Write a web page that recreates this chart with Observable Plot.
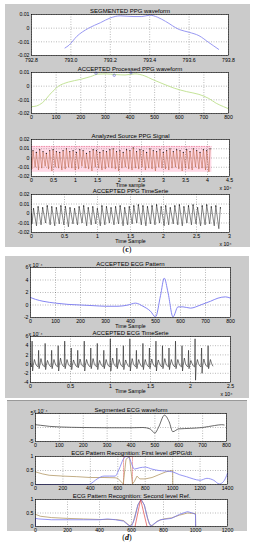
<!DOCTYPE html>
<html><head><meta charset="utf-8">
<script src="https://cdn.jsdelivr.net/npm/d3@7"></script>
<script src="https://cdn.jsdelivr.net/npm/@observablehq/plot@0.6"></script>
<style>
body{margin:0;background:#fff;}
#root{position:relative;width:255px;height:550px;overflow:hidden;font-family:"Liberation Sans",Arial,sans-serif;}
.win{position:absolute;background:#cbcbcb;}
.cap{position:absolute;font-family:"Liberation Serif",serif;font-size:8px;transform:translate(-50%,-50%);}
svg{position:absolute;}
</style></head>
<body><div id="root">
<div class="win" style="left:5px;top:4px;width:245px;height:243px"></div>
<div class="win" style="left:5px;top:256px;width:244px;height:142px"></div>
<div class="win" style="left:7px;top:400px;width:240px;height:130px;border-top:1px solid #999;"></div>
<div class="cap" style="left:127px;top:249px">(<b>c</b>)</div>
<div class="cap" style="left:127px;top:537px">(<b><i>d</i></b>)</div>
</div>
<script>
// ---------- data ----------
// Panel 1: SEGMENTED PPG waveform
const p1X = [792.97, 792.99, 793.03, 793.09, 793.15, 793.2, 793.25, 793.32, 793.36, 793.4, 793.44, 793.48, 793.55, 793.6, 793.65, 793.7, 793.75];
const p1Y = [-0.0145, -0.0125, -0.006, 0.0, 0.004, 0.0075, 0.009, 0.0085, 0.0085, 0.0095, 0.008, 0.005, -0.001, -0.003, -0.0055, -0.0105, -0.0155];
const p1XTicks = [792.8, 793, 793.2, 793.4, 793.6, 793.8];
const ppgYTicks = [-0.02, -0.01, 0, 0.01];
// Panel 2: ACCEPTED Processed PPG waveform
const p2X = [0, 20, 45, 80, 110, 150, 200, 240, 270, 300, 340, 380, 420, 460, 490, 530, 580, 630, 680, 720, 750, 780, 800];
const p2Y = [-0.015, -0.0145, -0.012, -0.005, 0.0, 0.003, 0.005, 0.007, 0.0088, 0.009, 0.0085, 0.0082, 0.009, 0.0075, 0.005, 0.002, -0.0015, -0.004, -0.006, -0.009, -0.0125, -0.015, -0.0165];
const p2MarkX = [262, 336, 404];
const p2MarkY = [0.0095, 0.008, 0.0098];
const p2XTicks = [0, 100, 200, 300, 400, 500, 600, 700, 800];
// Panel 3: Analyzed Source PPG Signal (x in 1e4 samples)
const p3Peaks = [0.008,0.006,0.009,0.007,0.005,0.008,0.009,0.007,0.006,0.008,0.010,0.007,0.008,0.006,0.009,0.008,0.005,0.007,0.009,0.008,0.006,0.008,0.007,0.009,0.010,0.007,0.008,0.006,0.009,0.008,0.011,0.007,0.009,0.008,0.006,0.010,0.008,0.007,0.009,0.006,0.008,0.010,0.007,0.009,0.008,0.006,0.009,0.007,0.010,0.008,0.006,0.009,0.008,0.010];
const p3Troughs = [-0.012,-0.010,-0.013,-0.011,-0.009,-0.012,-0.014,-0.010,-0.011,-0.013,-0.012,-0.010,-0.011,-0.013,-0.012,-0.009,-0.011,-0.012,-0.014,-0.010,-0.011,-0.013,-0.012,-0.010,-0.011,-0.012,-0.014,-0.011,-0.010,-0.012,-0.013,-0.011,-0.012,-0.010,-0.013,-0.011,-0.012,-0.014,-0.010,-0.011,-0.012,-0.013,-0.011,-0.010,-0.012,-0.014,-0.011,-0.012,-0.013,-0.010,-0.012,-0.011,-0.013,-0.015];
const p3End = 4.1;
const p3Band = [-0.0155, 0.0125];
const p3XTicks = [0, 0.5, 1, 1.5, 2, 2.5, 3, 3.5, 4, 4.5];
const ppg2YTicks = [-0.02, -0.01, 0, 0.01, 0.02];
// Panel 4: ACCEPTED PPG TimeSerie
const p4Peaks = [0.005,0.007,0.006,0.008,0.007,0.006,0.008,0.007,0.006,0.005,0.007,0.008,0.006,0.007,0.005,0.008,0.007,0.006,0.007,0.008,0.006,0.007,0.008,0.009,0.008,0.007,0.008,0.009,0.007,0.008,0.006,0.008,0.009,0.007,0.008,0.009,0.006,0.008,0.009,0.007,0.008,0.006];
const p4Troughs = [-0.011,-0.013,-0.012,-0.010,-0.012,-0.013,-0.011,-0.012,-0.014,-0.011,-0.012,-0.010,-0.013,-0.012,-0.011,-0.013,-0.012,-0.010,-0.012,-0.011,-0.013,-0.012,-0.011,-0.010,-0.012,-0.013,-0.011,-0.012,-0.010,-0.013,-0.012,-0.011,-0.012,-0.013,-0.010,-0.012,-0.011,-0.013,-0.012,-0.011,-0.013,-0.016];
const p4End = 2.9;
const p4XTicks = [0, 0.5, 1, 1.5, 2, 2.5, 3];
// Panel 5: ACCEPTED ECG Pattern (x 1e-4)
const p5X = [0, 20, 50, 100, 150, 200, 250, 300, 350, 390, 420, 450, 480, 500, 520, 535, 550, 570, 590, 610, 640, 680, 720, 750, 780, 800];
const p5Y = [1.2, 0.9, 0.6, 0.3, 0.1, 0, -0.1, -0.2, -0.2, 0, 0.3, -0.2, -1, -1.9, 1.5, 4.3, 2, -1.9, -0.3, -0.3, -0.5, 0, 0.6, 1.1, 1.3, 1.1];
const p5XTicks = [0, 100, 200, 300, 400, 500, 600, 700, 800];
const p5YTicks = [-2, 0, 2, 4, 6];
// Panel 6: ACCEPTED ECG TimeSerie (x 1e4, y 1e-4)
const p6R = [5,3,4.5,3,4,5,3.5,3,5,3.5,4.5,3,5.5,3.5,4,5.5,3,4.5,3.5,5,4,3.5,5,4,3,5.5,3.5,4];
const p6S = [-1.5,-1,-1.2,-1,-1.5,-1,-1.2,-0.8,-1.5,-1,-1.2,-1,-1.5,-1,-1.2,-1.5,-1,-1.2,-1,-1.5,-1,-1.2,-1,-1.5,-1,-3.5,-2,-1];
const p6T = [1,1.2,0.8,1,1.3,1,0.9,1.1,1,1.2,0.8,1,1.3,1,0.9,1.2,1,1,1.1,0.9,1.2,1,1,1.3,0.8,1,1.1,1];
const p6Start = 0.02, p6Last = 2.22;
const p6XTicks = [0, 0.5, 1, 1.5, 2, 2.5];
const p6YTicks = [-4, -2, 0, 2, 4, 6];
// Panel 7: Segmented ECG waveform
const p7X = [0, 20, 60, 100, 200, 300, 400, 450, 480, 500, 515, 540, 560, 575, 600, 650, 700, 750, 780, 790];
const p7Y = [1, 0.8, 0.4, 0.2, 0, -0.1, -0.1, 0, -0.5, -2, 0, 4.4, 2, -1.5, -0.5, -0.3, 0, 0.7, 1, 0.9];
const p7XTicks = [0, 100, 200, 300, 400, 500, 600, 700, 800];
const p7YTicks = [-5, 0, 5];
// Panel 8: ECG Pattern Recognition: First level dPPG/dt
const p8BlueX = [0, 390, 400, 450, 500, 540, 580, 610, 640, 660, 680, 700, 720, 760, 800, 850, 900, 950, 1000, 1050, 1100, 1150, 1200, 1250, 1300, 1340, 1370, 1400];
const p8BlueY = [0, 0, 0.02, 0.2, 0.3, 0.3, 0.3, 0.55, 0.9, 1.0, 0.98, 0.75, 0.55, 0.6, 0.62, 0.55, 0.5, 0.48, 0.45, 0.35, 0.28, 0.2, 0.15, 0.22, 0.15, 0.02, 0.1, 0.4];
const p8BrownX = [0, 50, 100, 200, 300, 400, 500, 580, 600, 640, 660, 685, 707, 720, 740, 760, 800, 850, 900, 950, 990, 1000, 1001];
const p8BrownY = [0.45, 0.38, 0.33, 0.3, 0.28, 0.25, 0.25, 0.24, 0.22, 0.02, 0.9, 1.0, 0.02, 0.1, 0.3, 0.2, 0.2, 0.25, 0.35, 0.45, 0.5, 0.5, 0];
const p8RedX = [642, 642, 707, 707];
const p8RedY = [0, 1, 1, 0];
const p8XTicks = [0, 200, 400, 600, 800, 1000, 1200, 1400];
const unitYTicks = [0, 0.5, 1];
// Panel 9: ECG Pattern Recognition: Second level Ref.
const p9BlueX = [0, 0, 20, 100, 200, 300, 400, 450, 500, 550, 580, 600, 620, 640, 660, 680, 700, 720, 740, 780, 850, 900, 950, 980, 1000, 1001];
const p9BlueY = [0, 0.3, 0.28, 0.25, 0.25, 0.25, 0.25, 0.28, 0.25, 0.2, 0.05, 0, 0.3, 0.8, 1.0, 0.8, 0.3, 0.0, 0.1, 0.25, 0.3, 0.45, 0.55, 0.5, 0.45, 0];
const p9BrownX = [0, 30, 100, 200, 300, 400, 500, 550, 590, 610, 640, 660, 680, 710, 730, 760, 800, 850, 900, 950, 1000, 1001];
const p9BrownY = [0.45, 0.38, 0.33, 0.3, 0.28, 0.26, 0.26, 0.22, 0.02, 0.15, 0.8, 1, 0.8, 0.1, 0.02, 0.2, 0.28, 0.32, 0.42, 0.5, 0.48, 0];
const p9RedX = [622, 657, 697];
const p9RedY = [0, 1, 0];
const p9XTicks = [0, 200, 400, 600, 800, 1000, 1200];

// ---------- helpers ----------
const root = document.getElementById("root");
const pts = (xs, ys) => xs.map((x, i) => ({x, y: ys[i]}));
function zigzag(troughs, peaks, end) {
  const n = troughs.length, p = end / n, out = [{x: 0, y: 0}];
  for (let i = 0; i < n; i++) {
    out.push({x: (i + 0.1) * p, y: troughs[i]});
    out.push({x: (i + 0.45) * p, y: peaks[i]});
  }
  return out;
}
function peakPts(peaks, end) {
  const p = end / peaks.length;
  return peaks.map((y, i) => ({x: (i + 0.45) * p, y}));
}
function ecg(R, S, T, start, last) {
  const n = R.length, p = (last - start) / (n - 1), out = [{x: 0, y: 0.2}];
  for (let i = 0; i < n; i++) {
    const x0 = start + i * p - 0.006;
    out.push({x: x0, y: -0.6}, {x: x0 + 0.006, y: R[i]}, {x: x0 + 0.012, y: S[i]},
             {x: x0 + 0.02, y: -0.3}, {x: x0 + 0.035, y: T[i]}, {x: x0 + 0.05, y: 0.1},
             {x: x0 + 0.065, y: -0.4});
  }
  return out;
}
const fmt = d => String(+d.toFixed(4));
const FS = 5.2;
function panel(o) {
  const ml = 26, mr = 24, mt = 12, mb = 18;
  const w = o.r - o.l, h = o.b - o.t;
  const gridOpt = {stroke: "#000", strokeOpacity: 0.55, strokeDasharray: "1,1.5", strokeWidth: 0.5};
  const marks = [
    Plot.frame({fill: "white"}),
    ...(o.under || []),
    Plot.gridX(o.xt, gridOpt),
    Plot.gridY(o.yt, gridOpt),
    ...o.marks,
    Plot.frame({stroke: "#000", strokeWidth: 0.6}),
    Plot.axisX(o.xt, {tickSize: 0, tickPadding: o.xpad ?? 1.5, fontSize: FS, tickFormat: o.xf || fmt, label: null}),
    Plot.axisY(o.yt, {tickSize: 0, tickPadding: 2, fontSize: FS, tickFormat: o.yf || fmt, label: null}),
    Plot.text([o.title], {text: d => d, frameAnchor: "top", dy: -1.2, lineAnchor: "bottom", fontSize: 6})
  ];
  if (o.xlabel) marks.push(Plot.text([o.xlabel], {text: d => d, frameAnchor: "bottom", dy: 7, lineAnchor: "top", fontSize: FS}));
  if (o.xexp) marks.push(Plot.text([o.xexp], {text: d => d, frameAnchor: "bottom-right", dx: 2, dy: 10, lineAnchor: "top", textAnchor: "end", fontSize: FS}));
  if (o.yexp) marks.push(Plot.text([o.yexp], {text: d => d, frameAnchor: "top-left", dx: -2, dy: -1, lineAnchor: "bottom", textAnchor: "start", fontSize: FS}));
  const svg = Plot.plot({
    width: w + ml + mr, height: h + mt + mb,
    marginLeft: ml, marginRight: mr, marginTop: mt, marginBottom: mb,
    x: {domain: o.xd}, y: {domain: o.yd},
    style: {background: "transparent", fontFamily: "Liberation Sans, Arial, sans-serif", color: "#000", overflow: "visible"},
    marks
  });
  svg.style.left = (o.l - ml) + "px";
  svg.style.top = (o.t - mt) + "px";
  root.appendChild(svg);
}

// ---------- panels ----------
panel({l: 31, r: 228, t: 14, b: 55, xd: [792.8, 793.8], yd: [-0.02, 0.01], xt: p1XTicks, yt: ppgYTicks,
  xf: d => d.toFixed(1), xpad: 3.2, title: "SEGMENTED PPG waveform",
  marks: [Plot.line(pts(p1X, p1Y), {x: "x", y: "y", stroke: "#8c8cf0", strokeWidth: 0.9, curve: "monotone-x"})]});

panel({l: 31, r: 228, t: 72, b: 113, xd: [0, 800], yd: [-0.02, 0.01], xt: p2XTicks, yt: ppgYTicks,
  title: "ACCEPTED Processed PPG waveform",
  marks: [Plot.line(pts(p2X, p2Y), {x: "x", y: "y", stroke: "#bde08c", strokeWidth: 0.9, curve: "monotone-x"}),
          Plot.dot(pts(p2MarkX, p2MarkY), {x: "x", y: "y", r: 1.2, stroke: "#6060d0", strokeWidth: 0.6})]});

panel({l: 31, r: 229, t: 139, b: 176, xd: [0, 4.5], yd: [-0.02, 0.02], xt: p3XTicks, yt: ppg2YTicks,
  title: "Analyzed Source PPG Signal", xlabel: "Time sample", xexp: "x 10⁴",
  under: [Plot.rectY([p3Band], {x1: 0, x2: p3End, y1: d => d[0], y2: d => d[1], fill: "#ffd9e6"}),
          Plot.ruleY([p3Band[1]], {x1: 0, x2: p3End, stroke: "#e06080", strokeWidth: 0.6, strokeDasharray: "1.5,1"})],
  marks: [Plot.line(zigzag(p3Troughs, p3Peaks, p3End), {x: "x", y: "y", stroke: "#b8603f", strokeWidth: 0.55}),
          Plot.dot(peakPts(p3Peaks, p3End), {x: "x", y: "y", r: 0.6, fill: "#222"})]});

panel({l: 31, r: 229, t: 194, b: 232, xd: [0, 3], yd: [-0.02, 0.02], xt: p4XTicks, yt: ppg2YTicks,
  title: "ACCEPTED PPG TimeSerie", xlabel: "Time Sample", xexp: "x 10⁴",
  marks: [Plot.line(zigzag(p4Troughs, p4Peaks, p4End), {x: "x", y: "y", stroke: "#444", strokeWidth: 0.65}),
          Plot.dot(peakPts(p4Peaks, p4End), {x: "x", y: "y", r: 0.6, fill: "#000"})]});

panel({l: 30, r: 230, t: 267, b: 317, xd: [0, 800], yd: [-2, 6], xt: p5XTicks, yt: p5YTicks,
  title: "ACCEPTED ECG Pattern", xlabel: "Time Sample", yexp: "x 10⁻⁴",
  marks: [Plot.line(pts(p5X, p5Y), {x: "x", y: "y", stroke: "#7878f0", strokeWidth: 0.9, curve: "monotone-x"})]});

panel({l: 30, r: 230, t: 336, b: 382, xd: [0, 2.5], yd: [-4, 6], xt: p6XTicks, yt: p6YTicks,
  title: "ACCEPTED ECG TimeSerie", xlabel: "Time Sample", xexp: "x 10⁴", yexp: "x 10⁻⁴",
  marks: [Plot.line(ecg(p6R, p6S, p6T, p6Start, p6Last), {x: "x", y: "y", stroke: "#222", strokeWidth: 0.6})]});

panel({l: 35, r: 226, t: 413, b: 441, xd: [0, 800], yd: [-5, 5], xt: p7XTicks, yt: p7YTicks,
  title: "Segmented ECG waveform", yexp: "x 10⁻⁴",
  marks: [Plot.line(pts(p7X, p7Y), {x: "x", y: "y", stroke: "#444", strokeWidth: 0.8, curve: "monotone-x"})]});

panel({l: 35, r: 227, t: 456, b: 484, xd: [0, 1400], yd: [0, 1], xt: p8XTicks, yt: unitYTicks,
  title: "ECG Pattern Recognition: First level dPPG/dt",
  marks: [Plot.line(pts(p8RedX, p8RedY), {x: "x", y: "y", stroke: "#e04848", strokeWidth: 0.5, strokeDasharray: "1.5,1"}),
          Plot.line(pts(p8BrownX, p8BrownY), {x: "x", y: "y", stroke: "#a88a50", strokeWidth: 0.7}),
          Plot.line(pts(p8BlueX, p8BlueY), {x: "x", y: "y", stroke: "#7a7af0", strokeWidth: 0.8, curve: "monotone-x"})]});

panel({l: 35, r: 227, t: 499, b: 526, xd: [0, 1200], yd: [0, 1], xt: p9XTicks, yt: unitYTicks,
  title: "ECG Pattern Recognition: Second level Ref.",
  marks: [Plot.line(pts(p9BrownX, p9BrownY), {x: "x", y: "y", stroke: "#a88a50", strokeWidth: 0.7}),
          Plot.line(pts(p9BlueX, p9BlueY), {x: "x", y: "y", stroke: "#7a7af0", strokeWidth: 0.8}),
          Plot.line(pts(p9RedX, p9RedY), {x: "x", y: "y", stroke: "#e04848", strokeWidth: 0.7})]});
</script>
</body></html>
